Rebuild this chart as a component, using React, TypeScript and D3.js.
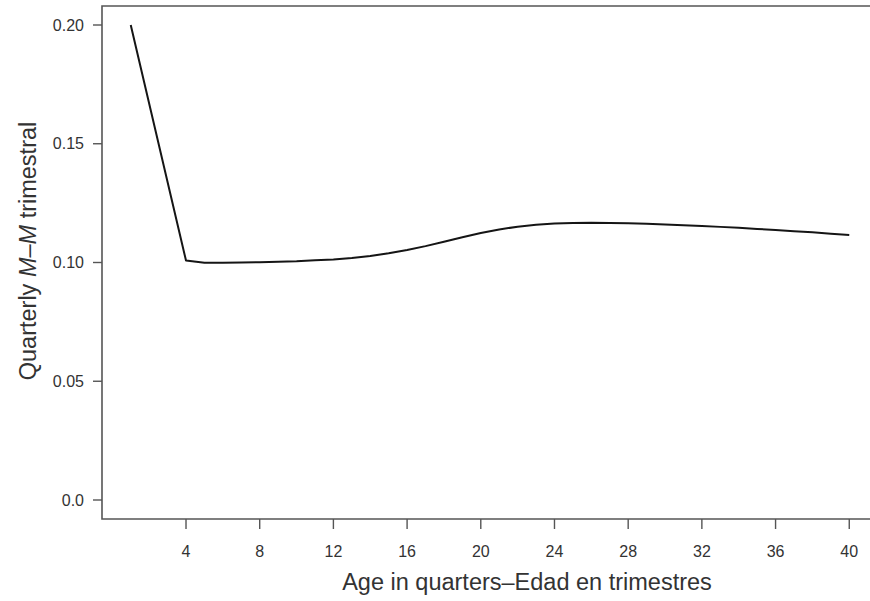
import React from 'react';
import * as d3 from 'd3';

interface IPoint {
  age: number;
  m: number;
}

const ages = [
  1, 4, 5, 6, 7, 8, 9, 10, 11, 12, 13, 14, 15, 16, 17, 18, 19, 20, 21, 22, 23, 24,
  25, 26, 27, 28, 29, 30, 31, 32, 33, 34, 35, 36, 37, 38, 39, 40,
];
const mortality = [
  0.2, 0.1008, 0.0999, 0.0999, 0.1, 0.1001, 0.1003, 0.1005, 0.1009, 0.1013, 0.1019,
  0.1027, 0.1039, 0.1053, 0.1069, 0.1087, 0.1106, 0.1124, 0.1139, 0.1151, 0.1159,
  0.1164, 0.1166, 0.1167, 0.1166, 0.1165, 0.1163, 0.116, 0.1157, 0.1154, 0.115,
  0.1146, 0.1141, 0.1137, 0.1132, 0.1127, 0.1121, 0.1116,
];
const xTicks = [4, 8, 12, 16, 20, 24, 28, 32, 36, 40];
const yTicks = [0, 0.05, 0.1, 0.15, 0.2];
const yTickLabels = ['0.0', '0.05', '0.10', '0.15', '0.20'];

const width = 870;
const height = 601;
const font = '"Liberation Sans", Arial, sans-serif';
const axisColor = '#555';
const textColor = '#333';

export default function App() {
  const data: IPoint[] = ages.map((a, i) => ({ age: a, m: mortality[i] }));

  // R-style 4% padding on both axes
  const x = d3.scaleLinear().domain([-0.56, 41.56]).range([102, 878]);
  const y = d3.scaleLinear().domain([-0.008, 0.208]).range([519, 6]);

  const line = d3
    .line<IPoint>()
    .x((d) => x(d.age))
    .y((d) => y(d.m));

  const left = x(-0.56);
  const right = 900; // frame runs off the right edge of the picture
  const top = y(0.208);
  const bottom = y(-0.008);

  return (
    <svg
      viewBox={`0 0 ${width} ${height}`}
      width={width}
      height={height}
      style={{ position: 'absolute', left: 0, top: 0, background: '#fff' }}
    >
      <rect width='100%' height='100%' fill='#fff' />
      {/* plot frame */}
      <path
        d={`M${right},${top}H${left}V${bottom}H${right}`}
        fill='none'
        stroke={axisColor}
        strokeWidth={1.6}
      />

      {/* y axis ticks */}
      <g fontFamily={font} fontSize={16} fill={textColor}>
        {yTicks.map((t, i) => (
          <g key={t} transform={`translate(0,${y(t)})`}>
            <line x1={left - 9} x2={left} stroke={axisColor} strokeWidth={1.4} />
            <text x={left - 18} dy='0.35em' textAnchor='end'>
              {yTickLabels[i]}
            </text>
          </g>
        ))}
      </g>

      {/* x axis ticks */}
      <g fontFamily={font} fontSize={16} fill={textColor}>
        {xTicks.map((t) => (
          <g key={t} transform={`translate(${x(t)},0)`}>
            <line y1={bottom} y2={bottom + 10} stroke={axisColor} strokeWidth={1.4} />
            <text y={557} textAnchor='middle'>
              {t}
            </text>
          </g>
        ))}
      </g>

      <path
        d={line(data) || ''}
        fill='none'
        stroke='#151515'
        strokeWidth={2}
        strokeLinejoin='round'
      />

      <text
        x={527}
        y={590}
        textAnchor='middle'
        fontFamily={font}
        fontSize={23.5}
        fill={textColor}
      >
        Age in quarters–Edad en trimestres
      </text>
      <text
        transform='translate(36,251) rotate(-90)'
        textAnchor='middle'
        fontFamily={font}
        fontSize={23.5}
        fill={textColor}
      >
        Quarterly <tspan fontStyle='italic'>M–M</tspan> trimestral
      </text>
    </svg>
  );
}
